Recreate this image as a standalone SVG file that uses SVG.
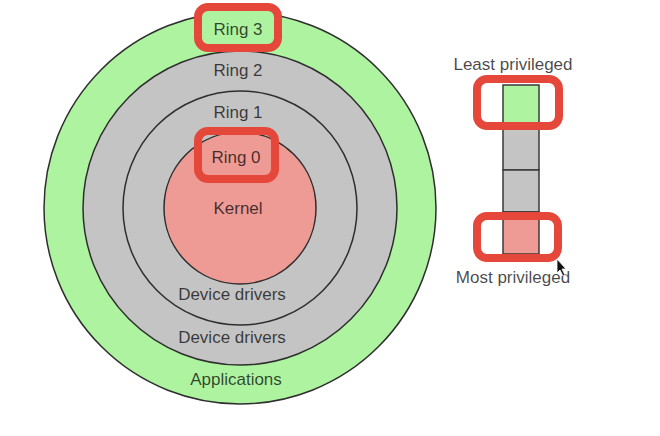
<svg xmlns="http://www.w3.org/2000/svg" width="660" height="436" viewBox="0 0 660 436">
<style>
text{font-family:"Liberation Sans",Arial,sans-serif;font-size:17px;text-anchor:middle;fill:#000;fill-opacity:0.72}
.ring{stroke:#2e2e2e;stroke-width:1.5}
.hl{fill:none;stroke:#e5473a;stroke-width:8}
.seg{stroke:#3a3a3a;stroke-width:1.5}
</style>
<rect width="660" height="436" fill="#ffffff"/>
<g id="ring3"><circle class="ring" cx="240" cy="208" r="196" fill="#aef4a0"/><text x="236" y="385">Applications</text></g>
<g id="ring2"><circle class="ring" cx="240" cy="208" r="157" fill="#c4c4c4"/><text x="238" y="76">Ring 2</text><text x="232" y="343">Device drivers</text></g>
<g id="ring1"><circle class="ring" cx="240" cy="208" r="117" fill="#c4c4c4"/><text x="238" y="118">Ring 1</text><text x="232" y="300">Device drivers</text></g>
<g id="ring0"><circle class="ring" cx="240" cy="208" r="76" fill="#ee9b95"/><text x="238" y="214">Kernel</text></g>
<g id="label-ring3"><rect x="198" y="7" width="80" height="41" rx="10" fill="#aef4a0"/><rect class="hl" x="198" y="7" width="80" height="41" rx="10"/><text x="238" y="35">Ring 3</text></g>
<g id="label-ring0"><rect class="hl" x="198" y="131" width="77" height="48" rx="10"/><text x="236" y="163">Ring 0</text></g>
<g id="privilege-bar">
<text x="513" y="70">Least privileged</text>
<rect class="seg" x="503" y="85" width="36" height="42" fill="#aef4a0"/>
<rect class="seg" x="503" y="127" width="36" height="43" fill="#c4c4c4"/>
<rect class="seg" x="503" y="170" width="36" height="42" fill="#c4c4c4"/>
<rect class="seg" x="503" y="212" width="36" height="42" fill="#ee9b95"/>
<rect class="hl" x="477" y="79" width="82" height="47" rx="10"/>
<rect class="hl" x="477" y="216" width="81" height="42" rx="10"/>
<text x="513" y="283">Most privileged</text>
</g>
<g id="cursor"><path d="M557,259 L557,273 L560,270 L563,276 L565,275 L562,269 L566,269 Z" fill="#111" stroke="#fff" stroke-width="0.8"/></g>
</svg>
